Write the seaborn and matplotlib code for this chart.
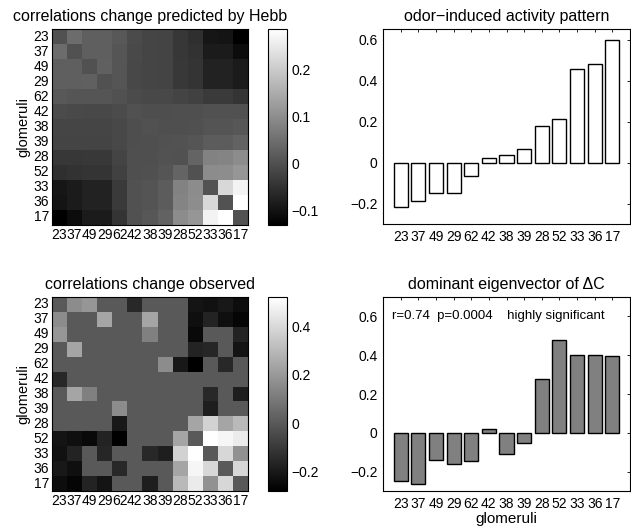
import matplotlib
matplotlib.use("Agg")
import numpy as np
import pandas as pd
import matplotlib.pyplot as plt
from matplotlib.ticker import FuncFormatter
import seaborn as sns

glomeruli = ["23", "37", "49", "29", "62", "42", "38", "39", "28", "52", "33", "36", "17"]

# odor-induced activity pattern
activity = [-0.218, -0.19, -0.148, -0.148, -0.065, 0.021, 0.036, 0.068, 0.179, 0.212, 0.456, 0.481, 0.598]

# dominant eigenvector of delta C
eigvec = [-0.248, -0.265, -0.14, -0.161, -0.147, 0.022, -0.108, -0.055, 0.279, 0.477, 0.402, 0.402, 0.398]

# correlation change predicted by Hebb
hebb = [
    [0.002, 0.046, 0.025, 0.025, 0.014, -0.007, -0.016, -0.019, -0.040, -0.052, -0.094, -0.096, -0.130],
    [0.046, 0.002, 0.025, 0.025, 0.009, -0.010, -0.017, -0.019, -0.040, -0.048, -0.086, -0.086, -0.110],
    [0.025, 0.025, 0.002, 0.028, 0.009, -0.012, -0.016, -0.019, -0.038, -0.045, -0.073, -0.073, -0.086],
    [0.025, 0.025, 0.028, 0.002, 0.009, -0.012, -0.016, -0.019, -0.038, -0.045, -0.073, -0.073, -0.086],
    [0.014, 0.009, 0.009, 0.009, 0.002, -0.007, -0.012, -0.012, -0.019, -0.024, -0.035, -0.035, -0.045],
    [-0.007, -0.010, -0.012, -0.012, -0.007, 0.002, -0.002, -0.002, -0.001, -0.001, 0.003, 0.003, 0.003],
    [-0.016, -0.017, -0.016, -0.016, -0.012, -0.002, 0.002, -0.001, 0.000, 0.001, 0.008, 0.008, 0.012],
    [-0.019, -0.019, -0.019, -0.019, -0.012, -0.002, -0.001, 0.002, 0.004, 0.009, 0.020, 0.020, 0.030],
    [-0.040, -0.040, -0.038, -0.038, -0.019, -0.001, 0.000, 0.004, 0.002, 0.034, 0.083, 0.086, 0.099],
    [-0.052, -0.048, -0.045, -0.045, -0.024, -0.001, 0.001, 0.009, 0.034, 0.002, 0.099, 0.101, 0.115],
    [-0.094, -0.086, -0.073, -0.073, -0.035, 0.003, 0.008, 0.020, 0.083, 0.099, 0.004, 0.222, 0.266],
    [-0.096, -0.086, -0.073, -0.073, -0.035, 0.003, 0.008, 0.020, 0.086, 0.101, 0.222, 0.004, 0.287],
    [-0.130, -0.110, -0.086, -0.086, -0.045, 0.003, 0.012, 0.030, 0.099, 0.115, 0.266, 0.287, 0.004],
]

# correlation change observed
observed = [
    [0.0, 0.159, 0.19, 0.0, 0.0, -0.154, 0.0, 0.0, 0.0, -0.217, -0.224, -0.202, -0.238],
    [0.159, 0.0, 0.0, 0.238, 0.0, 0.0, 0.238, 0.0, 0.0, -0.233, -0.17, -0.233, -0.264],
    [0.19, 0.0, 0.0, 0.0, 0.0, 0.0, 0.12, 0.0, 0.0, -0.249, 0.0, 0.0, -0.17],
    [0.0, 0.238, 0.0, 0.0, 0.0, 0.0, 0.0, 0.0, 0.0, -0.17, -0.16, 0.0, -0.217],
    [0.0, 0.0, 0.0, 0.0, 0.0, 0.0, 0.0, 0.159, -0.202, -0.28, 0.0, -0.154, 0.0],
    [-0.154, 0.0, 0.0, 0.0, 0.0, 0.0, 0.0, 0.0, 0.0, 0.0, 0.0, 0.0, 0.0],
    [0.0, 0.238, 0.12, 0.0, 0.0, 0.0, 0.0, 0.0, 0.0, 0.0, -0.154, 0.0, -0.186],
    [0.0, 0.0, 0.0, 0.0, 0.159, 0.0, 0.0, 0.0, 0.0, 0.0, -0.186, 0.0, 0.0],
    [0.0, 0.0, 0.0, 0.0, -0.202, 0.0, 0.0, 0.0, 0.0, 0.238, 0.379, 0.238, 0.30],
    [-0.217, -0.233, -0.249, -0.17, -0.28, 0.0, 0.0, 0.0, 0.238, 0.0, 0.52, 0.489, 0.457],
    [-0.224, -0.17, 0.0, -0.16, 0.0, 0.0, -0.154, -0.186, 0.379, 0.52, 0.0, 0.394, 0.175],
    [-0.202, -0.233, 0.0, 0.0, -0.154, 0.0, 0.0, 0.0, 0.238, 0.489, 0.394, 0.0, 0.394],
    [-0.238, -0.264, -0.17, -0.217, 0.0, 0.0, -0.186, 0.0, 0.30, 0.457, 0.175, 0.394, 0.0],
]

sns.set_style("white")
plt.rcParams["font.family"] = ["Liberation Sans", "DejaVu Sans"]
plt.rcParams["axes.linewidth"] = 0.8
for key in ["text.color", "axes.labelcolor", "xtick.color", "ytick.color", "axes.edgecolor"]:
    plt.rcParams[key] = "black"

W, H = 631, 528
fig = plt.figure(figsize=(W / 100, H / 100), dpi=100)


def box(x0, y0, x1, y1):
    return [x0 / W, 1 - y1 / H, (x1 - x0) / W, (y1 - y0) / H]


def fmt(v, pos=None):
    if abs(v) < 1e-9:
        return "0"
    s = f"{v:g}"
    return s.replace("-", "\u2212")


TICK = 10
TITLE = 11.5


def draw_heatmap(mat, title, ax_box, cb_box, cticks):
    ax = fig.add_axes(box(*ax_box))
    cax = fig.add_axes(box(*cb_box))
    df = pd.DataFrame(mat, index=glomeruli, columns=glomeruli)
    sns.heatmap(df, ax=ax, cmap="gray", cbar_ax=cax,
                xticklabels=glomeruli, yticklabels=glomeruli)
    for sp in ax.spines.values():
        sp.set_visible(True)
        sp.set_color("black")
        sp.set_linewidth(0.8)
    ax.tick_params(axis="both", direction="in", length=2.5, width=0.6,
                   labelsize=TICK, top=True, right=True, pad=2)
    ax.set_xticklabels(glomeruli, rotation=0)
    ax.set_yticklabels(glomeruli, rotation=0)
    ax.set_ylabel("glomeruli", fontsize=TICK + 0.5, labelpad=2)
    ax.set_title(title, fontsize=TITLE, pad=6)
    cbar = ax.collections[0].colorbar
    cbar.set_ticks(cticks)
    cbar.ax.yaxis.set_major_formatter(FuncFormatter(fmt))
    cbar.ax.tick_params(direction="in", length=2.5, width=0.6, labelsize=TICK,
                        left=True, right=True, pad=3)
    cbar.outline.set_edgecolor("black")
    cbar.outline.set_linewidth(0.8)
    return ax


def draw_bars(vals, title, ax_box, face, ylim):
    ax = fig.add_axes(box(*ax_box))
    df = pd.DataFrame({"glom": glomeruli, "val": vals})
    sns.barplot(data=df, x="glom", y="val", order=glomeruli, color=face,
                edgecolor="black", linewidth=1.0, saturation=1, width=0.8, ax=ax)
    ax.set_xlim(-1, 13)
    ax.set_ylim(*ylim)
    ax.set_yticks([-0.2, 0, 0.2, 0.4, 0.6])
    ax.yaxis.set_major_formatter(FuncFormatter(fmt))
    for sp in ax.spines.values():
        sp.set_visible(True)
        sp.set_color("black")
        sp.set_linewidth(0.8)
    ax.tick_params(axis="both", direction="in", length=2.5, width=0.6,
                   labelsize=TICK, top=True, right=True, pad=4)
    ax.set_xlabel("")
    ax.set_ylabel("")
    ax.set_title(title, fontsize=TITLE, pad=6)
    return ax


draw_heatmap(hebb, "correlations change predicted by Hebb",
             (52, 29, 248, 225), (268, 29, 287, 225), [-0.1, 0, 0.1, 0.2])
draw_heatmap(observed, "correlations change observed",
             (52, 297, 248, 491), (268, 297, 287, 491), [-0.2, 0, 0.2, 0.4])

draw_bars(activity, "odor\u2212induced activity pattern",
          (383, 29, 630, 224), "white", (-0.3, 0.652))
ax4 = draw_bars(eigvec, "dominant eigenvector of \u0394C",
                (383, 297, 630, 491), (0.5, 0.5, 0.5), (-0.3, 0.7))
ax4.set_xlabel("glomeruli", fontsize=TICK + 1, labelpad=1)
ax4.text(-0.5, 0.6, "r=0.74  p=0.0004    highly significant",
         fontsize=9.5, va="center", ha="left")

fig.savefig("out.png", dpi=100)
